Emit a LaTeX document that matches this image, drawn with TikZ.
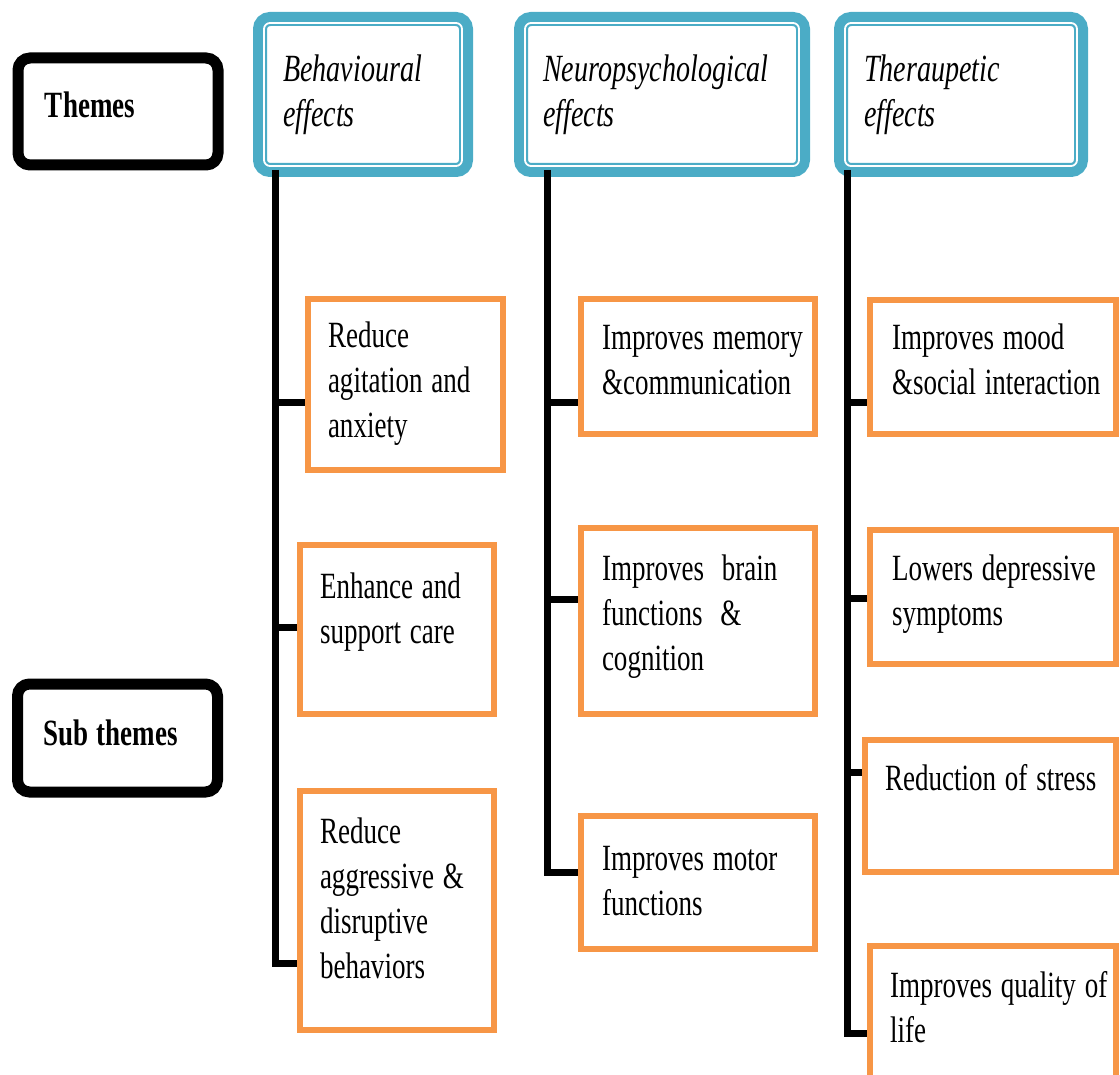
\documentclass[tikz,border=0pt]{standalone}
\usepackage{fontspec}
\setmainfont{Liberation Serif}[FakeStretch=0.73]
\usepackage{tikz}
\usetikzlibrary{calc, positioning}
\definecolor{hdrBlue}{RGB}{75, 172, 198}
\definecolor{subOrange}{RGB}{247, 150, 70}
\newcommand{\boxfont}{\fontsize{37}{45}\selectfont}

\begin{document}
\begin{tikzpicture}[x=1pt, y=-1pt,
  theme/.style={draw, line width=11pt, rounded corners=12pt, minimum width=200pt, minimum height=107pt, anchor=north west, inner sep=0pt, outer sep=0pt},
  hdr/.style={draw=hdrBlue, line width=14pt, rounded corners=10pt, fill=white, minimum height=151pt, anchor=north west, inner sep=0pt, outer sep=0pt},
  sub/.style={draw=subOrange, line width=6pt, anchor=north west, inner sep=0pt, outer sep=0pt},
  trunk/.style={line width=7pt, shorten >=3pt},
  txt/.style={anchor=base west, inner sep=0pt, outer sep=0pt, text width=260pt, align=flush left, font=\boxfont,
    execute at begin node={\spaceskip=0.24em\relax}},
  hdrtxt/.style={txt, font=\fontsize{38.5}{45}\selectfont\itshape}]
  \useasboundingbox (0,0) rectangle (1120,1075);
  \clip (0,0) rectangle (1120,1075);

  % left column
  \node[theme] (themes) at (18,58) {};
  \node[txt, font=\boxfont\bfseries] (themesT) at (45,118) {Themes};
  \node[theme, minimum height=108pt] (subthemes) at (17.5,684) {};
  \node[txt, font=\boxfont\bfseries] (subthemesT) at (43,745) {Sub themes};

  % theme headers
  \node[hdr, minimum width=206pt] (hB) at (260,19) {};
  \node[hdr, minimum width=282pt] (hN) at (521,19) {};
  \node[hdr, minimum width=240pt] (hT) at (841,19) {};
  \foreach \h in {hB,hN,hT}
    \draw[white, line width=1.8pt, rounded corners=6pt] ([shift={(4,4)}]\h.north west) rectangle ([shift={(-4,-4)}]\h.south east);
  \node[hdrtxt] (hBT) at (283,82) {Behavioural\\effects};
  \node[hdrtxt] (hNT) at (543,82) {Neuropsychological\\effects};
  \node[hdrtxt] (hTT) at (864,82) {Theraupetic\\effects};

  % sub theme boxes
  \node[sub, minimum width=195pt, minimum height=171pt] (sB1) at (308,299) {};
  \node[sub, minimum width=194pt, minimum height=169pt] (sB2) at (300,545) {};
  \node[sub, minimum width=194pt, minimum height=239pt] (sB3) at (300,791) {};
  \node[sub, minimum width=234pt, minimum height=135pt] (sN1) at (581,299) {};
  \node[sub, minimum width=234pt, minimum height=186pt] (sN2) at (581,528) {};
  \node[sub, minimum width=234pt, minimum height=133pt] (sN3) at (581,816) {};
  \node[sub, minimum width=246pt, minimum height=134pt] (sT1) at (870,300) {};
  \node[sub, minimum width=246pt, minimum height=134pt] (sT2) at (870,530) {};
  \node[sub, minimum width=251pt, minimum height=132pt] (sT3) at (865,740) {};
  \node[sub, minimum width=246pt, minimum height=160pt] (sT4) at (870,946) {};

  \node[txt] (sB1T) at (328,348) {Reduce\\agitation and\\anxiety};
  \node[txt] (sB2T) at (320,598) {Enhance and\\support care};
  \node[txt] (sB3T) at (320,843) {Reduce\\aggressive \&\\disruptive\\behaviors};
  \node[txt] (sN1T) at (602,350) {Improves memory\\\&communication};
  \node[txt] (sN2T) at (602,580) {Improves\ \ brain\\functions\ \ \&\\cognition};
  \node[txt] (sN3T) at (602,870) {Improves motor\\functions};
  \node[txt] (sT1T) at (892,350) {Improves mood\\\&social interaction};
  \node[txt] (sT2T) at (892,580) {Lowers depressive\\symptoms};
  \node[txt] (sT3T) at (885,790) {Reduction of stress};
  \node[txt] (sT4T) at (890,997) {Improves quality of\\life};

  % trunks and branches
  \coordinate (tB) at ([xshift=15pt]hB.south west);
  \coordinate (tN) at ([xshift=26pt]hN.south west);
  \coordinate (tT) at ([xshift=6pt]hT.south west);
  \coordinate (pB1) at ([yshift=-18.5pt]sB1.west);
  \coordinate (pB2) at ([yshift=2.5pt]sB2.west);
  \coordinate (pB3) at ([yshift=-52.5pt]sB3.west);
  \coordinate (pN1) at ([yshift=-36.5pt]sN1.west);
  \coordinate (pN2) at ([yshift=22pt]sN2.west);
  \coordinate (pN3) at ([yshift=10.5pt]sN3.west);
  \coordinate (pT1) at ([yshift=-36pt]sT1.west);
  \coordinate (pT2) at ([yshift=-1pt]sT2.west);
  \coordinate (pT3) at ([yshift=34pt]sT3.west);
  \coordinate (pT4) at ([yshift=-7pt]sT4.west);
  \draw[trunk] (tB) |- (pB3);
  \draw[trunk] (tN) |- (pN3);
  \draw[trunk] (tT) |- (pT4);
  \foreach \t/\p in {tB/pB1, tB/pB2, tN/pN1, tN/pN2, tT/pT1, tT/pT2, tT/pT3}
    \draw[trunk] (\t |- \p) -- (\p);
\end{tikzpicture}
\end{document}
